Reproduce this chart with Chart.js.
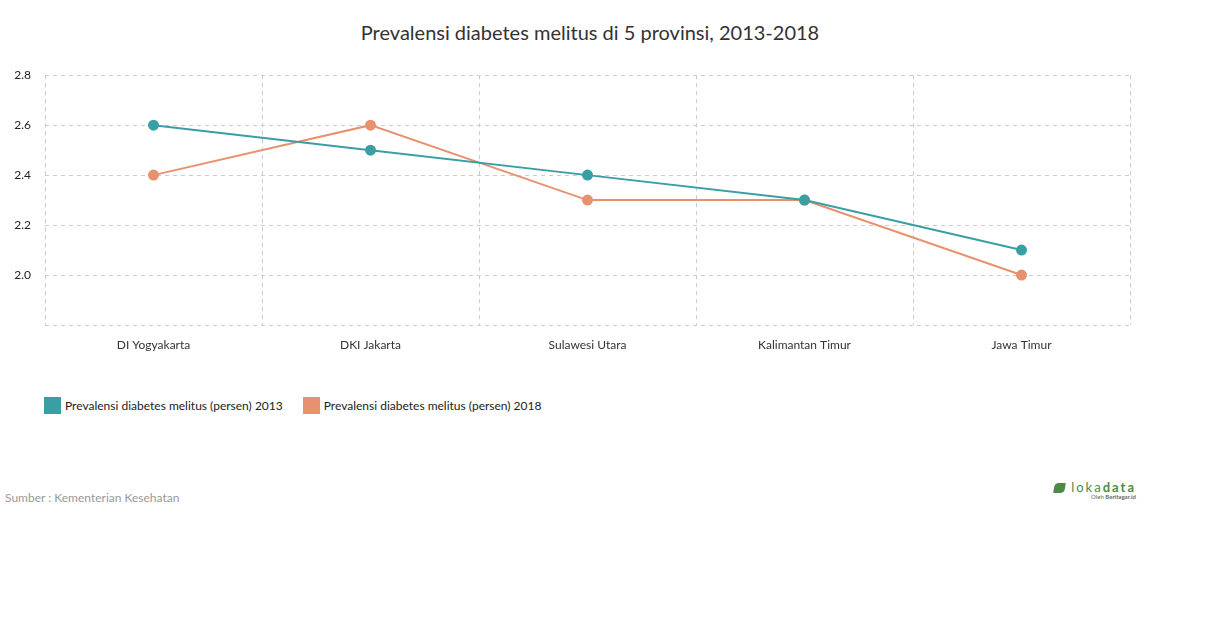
<!DOCTYPE html>
<html>
<head>
<meta charset="utf-8">
<script src="https://cdn.jsdelivr.net/npm/chart.js@4"></script>
<style>
  body { margin: 0; background: #fff; font-family: Lato, sans-serif; width: 1210px; height: 628px; position: relative; overflow: hidden; }
  #title { position: absolute; top: 20px; left: 0; width: 1180px; text-align: center; font-size: 20px; color: #333; }
  #wrap { position: absolute; left: 0; top: 54px; width: 1210px; height: 306px; }
  #legend { position: absolute; left: 44px; top: 397px; font-size: 12px; color: #222; display: flex; }
  .item { display: flex; align-items: center; margin-right: 20px; }
  .sw { width: 17px; height: 17px; margin-right: 4px; }
  #source { position: absolute; left: 5px; top: 490px; font-size: 12px; color: #999; }
  #logo { position: absolute; left: 1046px; top: 479px; width: 90px; text-align: right; }
  #logo .name { font-size: 13px; color: #4d8a46; letter-spacing: 2px; }
  #logo .name b { font-weight: 700; }
  #logo .by { font-size: 6px; color: #666; margin-top: -2px; }
  #logo .ic { display: inline-block; width: 11px; height: 10px; background: #4d8a46; border-radius: 4px 1px 4px 1px; transform: skewX(-10deg); vertical-align: -1px; margin-right: 6px; }
</style>
</head>
<body>
<div id="title">Prevalensi diabetes melitus di 5 provinsi, 2013-2018</div>
<div id="wrap"><canvas id="chart"></canvas></div>
<div id="legend"></div>
<div id="source">Sumber : Kementerian Kesehatan</div>
<div id="logo"><div class="name"><span class="ic"></span>loka<b>data</b></div><div class="by">Oleh <b>Beritagar.id</b></div></div>
<script>
  const provinces = ["DI Yogyakarta", "DKI Jakarta", "Sulawesi Utara", "Kalimantan Timur", "Jawa Timur"];
  const values2013 = [2.6, 2.5, 2.4, 2.3, 2.1];
  const values2018 = [2.4, 2.6, 2.3, 2.3, 2.0];
  const seriesNames = ["Prevalensi diabetes melitus (persen) 2013", "Prevalensi diabetes melitus (persen) 2018"];
  const colors = ["#3a9fa4", "#e8916f"];

  const gridStyle = { color: "#cccccc", lineWidth: 1, drawTicks: false };

  new Chart(document.getElementById("chart"), {
    type: "line",
    data: {
      labels: provinces,
      datasets: [values2013, values2018].map((vals, i) => ({
        label: seriesNames[i],
        data: vals,
        borderColor: colors[i],
        backgroundColor: colors[i],
        borderWidth: 2,
        pointRadius: 4.5,
        pointHoverRadius: 4.5,
        tension: 0,
      })),
    },
    options: {
      responsive: true,
      maintainAspectRatio: false,
      animation: false,
      layout: { padding: { top: 15, right: 80, left: 0, bottom: 0 } },
      plugins: { legend: { display: false }, tooltip: { enabled: false } },
      scales: {
        x: {
          offset: true,
          grid: { ...gridStyle, offset: true },
          border: { display: false, dash: [4, 4] },
          ticks: { color: "#333", font: { family: "Lato", size: 12 }, padding: 13, maxRotation: 0 },
          afterFit: (s) => { s.height = 35; },
        },
        y: {
          min: 1.8,
          max: 2.8,
          grid: gridStyle,
          border: { display: false, dash: [4, 4] },
          ticks: {
            stepSize: 0.2,
            color: "#222",
            padding: 14,
            font: { family: "Lato", size: 12 },
            callback: (v) => (Math.abs(v - 1.8) < 1e-6 ? "" : v.toFixed(1)),
          },
          afterFit: (s) => { s.width = 45; },
        },
      },
    },
  });

  const legend = document.getElementById("legend");
  seriesNames.forEach((name, i) => {
    const el = document.createElement("div");
    el.className = "item";
    el.innerHTML = '<span class="sw" style="background:' + colors[i] + '"></span>' + name;
    legend.appendChild(el);
  });
</script>
</body>
</html>
